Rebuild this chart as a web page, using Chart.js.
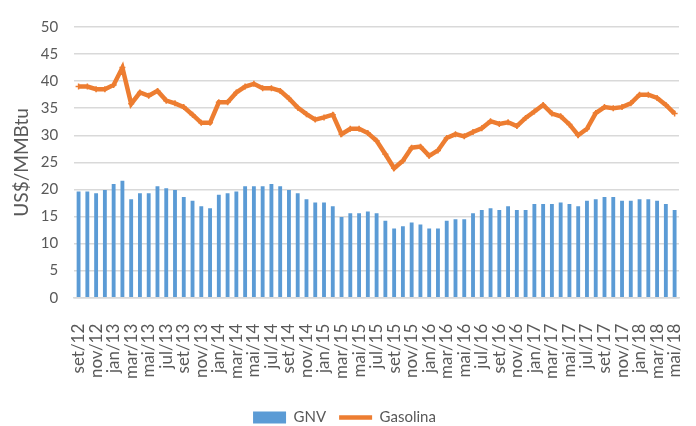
<!DOCTYPE html>
<html>
<head>
<meta charset="utf-8">
<script src="https://cdn.jsdelivr.net/npm/chart.js@4/dist/chart.umd.min.js"></script>
<style>
  html, body { margin: 0; padding: 0; background: #fff; }
  #wrap { width: 696px; height: 426px; }
</style>
</head>
<body>
<div id="wrap"><canvas id="c" width="696" height="426"></canvas></div>
<script>
// Monthly prices, set/2012 – mai/2018 (US$/MMBtu)
const months = [
  'set/12','out/12','nov/12','dez/12',
  'jan/13','fev/13','mar/13','abr/13','mai/13','jun/13','jul/13','ago/13','set/13','out/13','nov/13','dez/13',
  'jan/14','fev/14','mar/14','abr/14','mai/14','jun/14','jul/14','ago/14','set/14','out/14','nov/14','dez/14',
  'jan/15','fev/15','mar/15','abr/15','mai/15','jun/15','jul/15','ago/15','set/15','out/15','nov/15','dez/15',
  'jan/16','fev/16','mar/16','abr/16','mai/16','jun/16','jul/16','ago/16','set/16','out/16','nov/16','dez/16',
  'jan/17','fev/17','mar/17','abr/17','mai/17','jun/17','jul/17','ago/17','set/17','out/17','nov/17','dez/17',
  'jan/18','fev/18','mar/18','abr/18','mai/18'
];

const gnv = [
  19.6, 19.6, 19.3, 19.9, 21.0, 21.6, 18.2, 19.3, 19.3, 20.6,
  20.2, 19.9, 18.6, 17.9, 16.9, 16.5, 19.0, 19.3, 19.6, 20.6,
  20.6, 20.6, 21.0, 20.6, 19.9, 19.3, 18.2, 17.6, 17.6, 16.9,
  14.9, 15.6, 15.6, 15.9, 15.6, 14.2, 12.8, 13.2, 13.9, 13.5,
  12.8, 12.8, 14.2, 14.5, 14.5, 15.6, 16.2, 16.5, 16.2, 16.9,
  16.2, 16.2, 17.3, 17.3, 17.3, 17.6, 17.3, 16.9, 17.9, 18.2,
  18.6, 18.6, 17.9, 17.9, 18.2, 18.2, 17.9, 17.3, 16.2
];

const gasolina = [
  39.0, 39.0, 38.5, 38.5, 39.3, 42.5, 35.8, 37.9, 37.3, 38.2,
  36.4, 35.9, 35.2, 33.8, 32.3, 32.3, 36.1, 36.1, 37.9, 39.0,
  39.5, 38.7, 38.7, 38.2, 36.8, 35.1, 33.9, 32.9, 33.3, 33.8,
  30.2, 31.2, 31.2, 30.4, 29.0, 26.5, 23.9, 25.3, 27.7, 27.9,
  26.2, 27.2, 29.5, 30.2, 29.8, 30.6, 31.3, 32.6, 32.1, 32.4,
  31.7, 33.2, 34.4, 35.6, 34.0, 33.5, 32.0, 30.0, 31.2, 34.1,
  35.2, 35.0, 35.2, 35.9, 37.5, 37.5, 36.9, 35.6, 34.0
];

const yTicks = [0, 5, 10, 15, 20, 25, 30, 35, 40, 45, 50];

const textColor = '#595959';
const gridColor = '#D9D9D9';
const fontFamily = 'Lato, "Open Sans", sans-serif';

new Chart(document.getElementById('c'), {
  data: {
    labels: months,
    datasets: [
      {
        type: 'line',
        label: 'Gasolina',
        data: gasolina,
        borderColor: '#ED7D31',
        backgroundColor: '#ED7D31',
        borderWidth: 4.5,
        pointStyle: 'cross',
        pointRadius: 3,
        pointBorderWidth: 1.5,
        tension: 0,
        order: 0
      },
      {
        type: 'bar',
        label: 'GNV',
        data: gnv,
        backgroundColor: '#5B9BD5',
        borderWidth: 0,
        barPercentage: 0.44,
        categoryPercentage: 1.0,
        order: 1
      }
    ]
  },
  options: {
    responsive: false,
    animation: false,
    devicePixelRatio: 1,
    layout: { padding: { top: 27, right: 17, bottom: -9, left: 10 } },
    plugins: {
      legend: {
        position: 'bottom',
        reverse: true,
        labels: {
          color: textColor,
          font: { family: fontFamily, size: 15 },
          boxWidth: 33,
          boxHeight: 12,
          padding: 13,
          usePointStyle: true,
          pointStyleWidth: 33,
          generateLabels(chart) {
            const items = Chart.defaults.plugins.legend.labels.generateLabels(chart);
            items.forEach(it => {
              if (it.text === 'GNV') { it.pointStyle = 'rect'; it.lineWidth = 0; }
              else { it.pointStyle = 'line'; it.lineWidth = 4.5; }
            });
            return items;
          }
        }
      },
      tooltip: { enabled: false }
    },
    scales: {
      x: {
        grid: { display: false },
        border: { display: true, color: gridColor, width: 1.5 },
        afterFit(scale) {
          // the plot keeps its full width
          scale.paddingLeft = 0;
          scale.paddingRight = 0;
        },
        ticks: {
          color: textColor,
          font: { family: fontFamily, size: 17 },
          autoSkip: false,
          minRotation: 90,
          maxRotation: 90,
          padding: 18,
          callback(value, index) {
            return index % 2 === 0 ? months[index] : '';
          }
        }
      },
      y: {
        min: 0,
        max: 50,
        afterBuildTicks(scale) {
          scale.ticks = yTicks.map(v => ({ value: v }));
        },
        afterFit(scale) {
          // tighter gap between the axis title and the tick numbers
          scale.width -= 15;
        },
        grid: { color: gridColor, lineWidth: 1.5, drawTicks: false },
        border: { display: false },
        ticks: {
          color: textColor,
          font: { family: fontFamily, size: 15 },
          padding: 16
        },
        title: {
          display: true,
          text: 'US$/MMBtu',
          color: textColor,
          font: { family: fontFamily, size: 19 },
          padding: { top: 0, bottom: 7 }
        }
      }
    }
  }
});
</script>
</body>
</html>
